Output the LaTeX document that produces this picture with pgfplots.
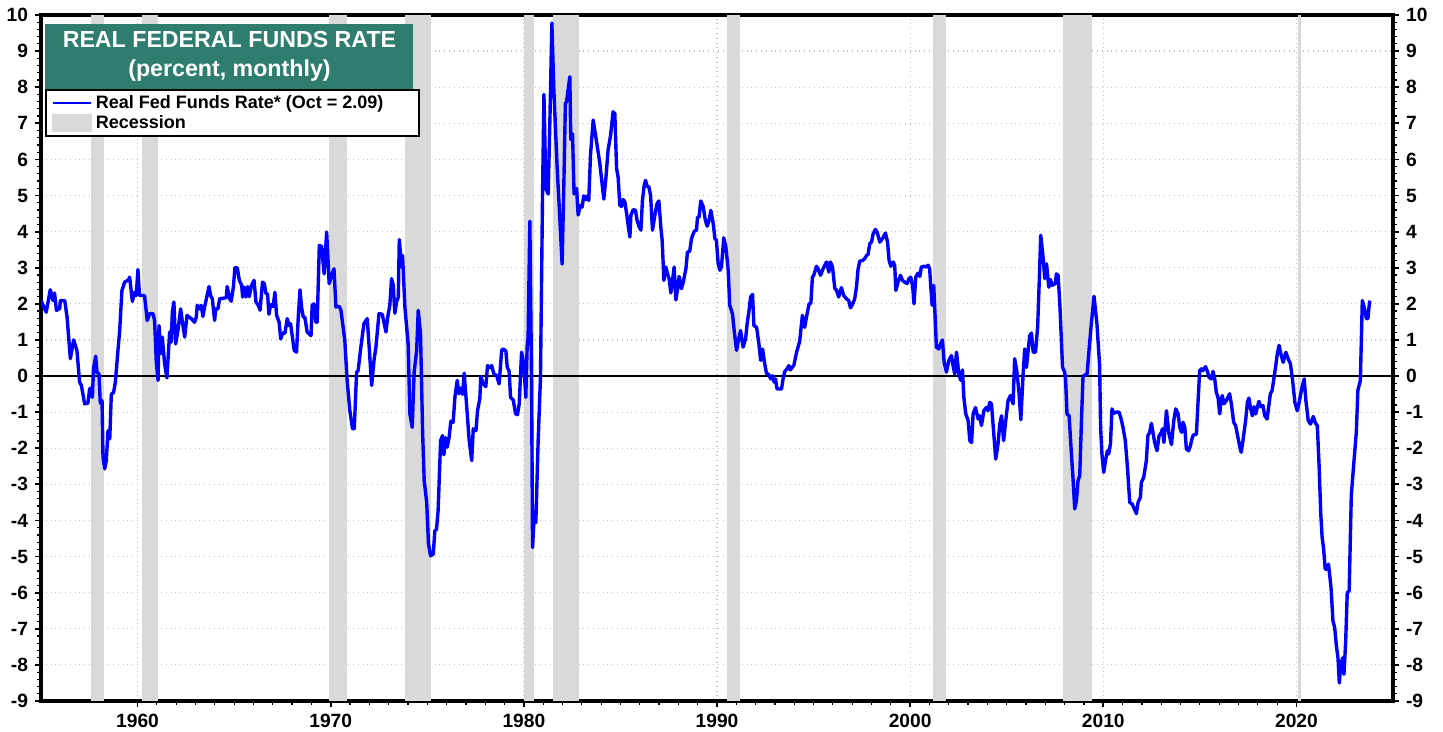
\documentclass[border=0pt]{standalone}
\usepackage{fontspec}
\setmainfont{Liberation Sans}
\usepackage{pgfplots}
\pgfplotsset{compat=1.18}
\definecolor{ttl}{RGB}{46,125,110}
\definecolor{recgray}{RGB}{217,217,217}
\definecolor{gridgray}{RGB}{195,195,195}
\definecolor{lineblue}{RGB}{0,0,255}
\begin{document}
\begin{tikzpicture}
\pgfplotsset{
  common/.style={
    scale only axis, width=676pt, height=343pt,
    xmin=1955, xmax=2025, ymin=-9, ymax=10,
    tick align=outside,
    major tick length=3pt, minor tick length=1.8pt,
    major tick style={black, line width=0.9pt},
    minor tick style={black, line width=0.6pt},
    axis line style={black, line width=1.6pt},
    /pgf/number format/assume math mode=true,
    /pgf/number format/1000 sep={},
    ticklabel style={font=\fontsize{9.6}{11}\selectfont\bfseries},
    ytick={-9,-8,...,10}, minor y tick num=4,
  }
}
\begin{axis}[common,
  xtick={1960,1970,...,2020}, minor x tick num=9,
  xtick pos=bottom, ytick pos=left,
  grid=major, major grid style={gridgray, dotted, line width=0.6pt},
  legend style={at={(rel axis cs:0.003,0.892)}, anchor=north west,
    draw=black, line width=1pt, fill=white, inner xsep=3pt, inner ysep=1pt,
    font=\fontsize{9}{10.5}\selectfont\bfseries, row sep=-1pt,
    nodes={inner sep=1.5pt}},
  legend cell align=left,
]
% recessions
\addplot[fill=recgray, draw=none, forget plot] coordinates {(1957.58,-9) (1957.58,10) (1958.25,10) (1958.25,-9)} -- cycle;
\addplot[fill=recgray, draw=none, forget plot] coordinates {(1960.25,-9) (1960.25,10) (1961.08,10) (1961.08,-9)} -- cycle;
\addplot[fill=recgray, draw=none, forget plot] coordinates {(1969.92,-9) (1969.92,10) (1970.83,10) (1970.83,-9)} -- cycle;
\addplot[fill=recgray, draw=none, forget plot] coordinates {(1973.83,-9) (1973.83,10) (1975.17,10) (1975.17,-9)} -- cycle;
\addplot[fill=recgray, draw=none, forget plot] coordinates {(1980.0,-9) (1980.0,10) (1980.5,10) (1980.5,-9)} -- cycle;
\addplot[fill=recgray, draw=none, forget plot] coordinates {(1981.5,-9) (1981.5,10) (1982.83,10) (1982.83,-9)} -- cycle;
\addplot[fill=recgray, draw=none, forget plot] coordinates {(1990.5,-9) (1990.5,10) (1991.17,10) (1991.17,-9)} -- cycle;
\addplot[fill=recgray, draw=none, forget plot] coordinates {(2001.17,-9) (2001.17,10) (2001.83,10) (2001.83,-9)} -- cycle;
\addplot[fill=recgray, draw=none, forget plot] coordinates {(2007.92,-9) (2007.92,10) (2009.42,10) (2009.42,-9)} -- cycle;
\addplot[fill=recgray, draw=none, forget plot] coordinates {(2020.08,-9) (2020.08,10) (2020.25,10) (2020.25,-9)} -- cycle;
% zero line
\addplot[black, line width=1pt, forget plot] coordinates {(1955,0) (2025,0)};
% real fed funds rate
\addplot[lineblue, line width=1.7pt, line join=round,
  legend image code/.code={\draw[lineblue, line width=1.4pt] (0pt,0pt) -- (19pt,0pt);}]
coordinates {
(1955.0,2.09) (1955.27,1.77) (1955.48,2.39) (1955.62,2.09) (1955.7,2.3) (1955.8,1.82) (1955.97,1.87) (1956.0,2.09) (1956.23,2.09) (1956.35,1.63) (1956.52,0.48) (1956.69,1.0) (1956.86,0.71) (1957.0,-0.17) (1957.09,-0.26) (1957.26,-0.77) (1957.43,-0.75) (1957.52,-0.35) (1957.6,-0.33) (1957.66,-0.59) (1957.72,0.2) (1957.83,0.55) (1957.9,0.1) (1958.0,0.06) (1958.07,-0.75) (1958.16,-0.68) (1958.21,-2.25) (1958.3,-2.57) (1958.38,-2.34) (1958.47,-1.51) (1958.56,-1.74) (1958.64,-0.51) (1958.76,-0.45) (1958.85,-0.17) (1958.99,0.75) (1959.07,1.22) (1959.19,2.37) (1959.33,2.6) (1959.54,2.67) (1959.59,2.74) (1959.73,2.07) (1959.85,2.32) (1959.93,2.23) (1960.02,2.95) (1960.1,2.23) (1960.36,2.23) (1960.5,1.54) (1960.63,1.73) (1960.8,1.73) (1960.88,1.54) (1960.97,0.38) (1961.06,-0.12) (1961.11,1.4) (1961.2,0.62) (1961.28,1.08) (1961.4,0.34) (1961.52,-0.05) (1961.66,1.22) (1961.74,0.94) (1961.8,1.77) (1961.88,2.05) (1961.97,0.89) (1962.09,1.26) (1962.23,1.86) (1962.31,1.54) (1962.44,1.08) (1962.56,1.68) (1962.78,1.59) (1962.95,1.49) (1963.04,1.63) (1963.09,1.96) (1963.21,1.86) (1963.3,1.96) (1963.38,1.65) (1963.47,1.91) (1963.7,2.48) (1963.78,2.23) (1963.87,2.14) (1963.99,1.54) (1964.04,1.86) (1964.16,1.86) (1964.25,2.14) (1964.59,2.17) (1964.64,2.48) (1964.77,2.14) (1964.85,2.07)
(1964.96,2.46) (1965.04,3.0) (1965.16,3.0) (1965.27,2.65) (1965.39,2.51) (1965.44,2.19) (1965.52,2.46) (1965.61,2.19) (1965.7,2.48) (1965.78,2.2) (1965.9,2.51) (1966.03,2.65) (1966.13,2.05) (1966.25,1.96) (1966.34,1.82) (1966.47,2.6) (1966.56,2.56) (1966.65,2.28) (1966.73,2.28) (1966.8,1.71) (1966.89,1.98) (1967.02,1.93) (1967.11,2.32) (1967.2,1.68) (1967.33,1.49) (1967.41,1.03) (1967.51,1.19) (1967.63,1.19) (1967.75,1.59) (1967.84,1.4) (1967.92,1.45) (1967.97,1.26) (1968.11,0.71) (1968.23,0.66) (1968.32,1.63) (1968.41,2.39) (1968.49,1.91) (1968.58,1.63) (1968.66,1.63) (1968.78,1.22) (1968.98,1.12) (1969.04,1.96) (1969.13,2.0) (1969.23,1.49) (1969.3,1.49) (1969.41,3.62) (1969.53,3.59) (1969.66,2.83) (1969.79,3.99) (1969.92,2.56) (1970.05,2.79) (1970.17,2.97) (1970.27,1.91) (1970.44,1.93) (1970.53,1.82) (1970.73,0.98) (1970.85,-0.12) (1970.99,-0.96) (1971.13,-1.46) (1971.22,-1.46) (1971.34,0.11) (1971.42,0.15) (1971.56,0.8) (1971.72,1.45) (1971.89,1.59) (1971.99,0.8) (1972.12,-0.26) (1972.24,0.43) (1972.34,0.8) (1972.5,1.73) (1972.67,1.71) (1972.77,1.45) (1972.86,1.22) (1972.95,1.63) (1973.06,1.96) (1973.15,2.7) (1973.24,2.51) (1973.32,1.74) (1973.41,2.05) (1973.5,2.19) (1973.55,3.78) (1973.67,3.02) (1973.72,3.34) (1973.84,1.91) (1974.01,0.89) (1974.1,-1.05) (1974.22,-1.42) (1974.32,0.11) (1974.45,0.71) (1974.53,1.82) (1974.65,1.17)
(1974.76,-1.6) (1974.84,-2.9) (1974.97,-3.5) (1975.06,-4.63) (1975.17,-4.98) (1975.31,-4.93) (1975.39,-4.29) (1975.48,-4.24) (1975.56,-3.73) (1975.69,-1.79) (1975.79,-1.65) (1975.86,-2.18) (1975.95,-1.71) (1976.03,-1.97) (1976.13,-1.7) (1976.22,-1.25) (1976.34,-1.28) (1976.43,-0.59) (1976.55,-0.12) (1976.64,-0.49) (1976.74,-0.33) (1976.83,-0.51) (1976.91,0.08) (1977.03,-0.77) (1977.17,-1.79) (1977.3,-2.34) (1977.38,-1.46) (1977.52,-1.51) (1977.6,-0.96) (1977.72,-0.63) (1977.77,-0.01) (1977.89,-0.22) (1978.03,-0.29) (1978.12,0.29) (1978.24,0.23) (1978.33,0.29) (1978.45,0.06) (1978.59,0.01) (1978.72,-0.22) (1978.85,0.71) (1978.93,0.75) (1979.07,0.69) (1979.14,0.24) (1979.24,0.13) (1979.31,-0.59) (1979.45,-0.66) (1979.57,-1.05) (1979.67,-1.07) (1979.76,-0.77) (1979.88,0.66) (1980.0,0.34) (1980.1,-0.59) (1980.17,0.8) (1980.22,1.08) (1980.31,4.29) (1980.4,-0.22) (1980.45,-4.75) (1980.53,-3.92) (1980.62,-4.06) (1980.74,-1.79) (1980.86,-0.03) (1980.97,5.15)
(1981.04,7.8) (1981.14,5.2) (1981.26,5.04) (1981.35,7.14) (1981.45,9.78) (1981.55,7.96) (1981.72,5.81) (1981.86,4.38) (1981.98,3.1) (1982.07,5.3) (1982.15,7.55) (1982.21,7.6) (1982.38,8.29) (1982.43,6.55) (1982.52,6.71) (1982.6,5.04) (1982.73,5.2) (1982.81,4.46) (1982.93,4.73) (1983.02,4.68) (1983.1,4.99) (1983.21,4.89) (1983.28,4.99) (1983.36,4.86) (1983.45,6.12) (1983.59,7.09) (1983.73,6.61) (1983.93,5.9) (1984.14,4.9) (1984.25,5.5) (1984.36,6.26) (1984.49,6.67) (1984.62,7.32) (1984.71,7.27) (1984.8,5.75) (1984.88,5.51) (1984.97,4.73) (1985.06,4.7) (1985.14,4.89) (1985.23,4.82) (1985.32,4.5) (1985.4,4.17) (1985.49,3.85) (1985.54,4.45) (1985.66,4.61) (1985.78,4.59) (1985.86,4.31) (1985.97,4.13) (1986.06,4.04) (1986.14,4.87) (1986.23,5.28) (1986.3,5.42) (1986.38,5.26) (1986.47,5.24) (1986.56,5.01) (1986.66,4.04) (1986.78,4.45) (1986.9,4.78) (1986.99,4.85) (1987.09,4.13) (1987.16,3.76) (1987.25,2.65) (1987.35,3.02) (1987.44,2.83) (1987.52,2.7) (1987.61,2.3) (1987.7,2.65) (1987.78,3.02) (1987.87,2.11) (1987.96,2.42) (1988.04,2.76) (1988.16,2.42) (1988.25,2.6) (1988.39,2.97) (1988.47,3.43) (1988.59,3.46) (1988.68,3.81) (1988.82,4.01) (1988.94,4.04) (1988.99,4.4) (1989.07,4.4) (1989.16,4.85) (1989.28,4.7) (1989.4,4.31) (1989.49,4.15) (1989.58,4.29) (1989.68,4.59) (1989.8,4.24) (1989.89,3.81) (1989.97,3.76) (1990.06,3.11) (1990.15,2.93) (1990.23,3.02) (1990.35,3.83) (1990.46,3.57) (1990.58,2.93) (1990.66,1.96) (1990.8,1.73) (1990.89,1.26) (1991.01,0.71) (1991.09,0.94) (1991.22,1.26) (1991.35,0.8) (1991.48,1.03) (1991.56,1.45) (1991.66,1.82) (1991.74,2.19) (1991.84,2.26) (1991.91,1.4) (1992.05,1.35) (1992.17,0.89) (1992.26,0.43) (1992.36,0.75) (1992.47,0.34) (1992.56,0.08) (1992.68,0.04) (1992.78,-0.08) (1992.87,0.01) (1992.96,-0.17) (1993.03,-0.08) (1993.11,-0.36) (1993.25,-0.36) (1993.34,-0.36) (1993.42,-0.08) (1993.51,0.13) (1993.63,0.2) (1993.72,0.29) (1993.8,0.17) (1993.89,0.24) (1993.98,0.3) (1994.12,0.66) (1994.28,0.96)
(1994.42,1.68) (1994.54,1.35) (1994.63,1.63) (1994.77,2.0) (1994.86,2.02) (1994.94,2.74) (1995.01,2.79) (1995.15,3.04) (1995.23,2.97) (1995.36,2.79) (1995.49,2.97) (1995.67,3.16) (1995.79,2.88) (1995.87,3.16) (1995.98,3.02) (1996.1,2.42) (1996.18,2.39) (1996.3,2.19) (1996.44,2.45) (1996.56,2.23) (1996.7,2.14) (1996.82,2.09) (1996.91,1.89) (1997.01,1.98) (1997.13,2.14) (1997.22,2.46) (1997.3,2.95) (1997.39,3.18) (1997.53,3.2) (1997.65,3.25) (1997.74,3.34) (1997.82,3.37) (1997.91,3.67) (1998.0,3.71) (1998.08,3.93) (1998.2,4.06) (1998.29,3.99) (1998.43,3.71) (1998.57,3.81) (1998.72,3.96) (1998.83,3.71) (1998.91,3.2) (1999.0,3.04) (1999.12,3.16) (1999.2,3.07) (1999.26,2.37) (1999.37,2.6) (1999.5,2.79) (1999.6,2.65) (1999.72,2.6) (1999.84,2.56) (1999.94,2.7) (2000.03,2.74) (2000.13,2.48) (2000.2,2.0) (2000.29,2.74) (2000.41,2.85) (2000.5,2.76) (2000.58,3.02) (2000.7,3.04) (2000.84,3.02) (2000.93,3.07) (2001.01,2.97) (2001.07,2.46) (2001.14,1.96) (2001.22,2.51) (2001.27,1.91) (2001.36,0.8) (2001.48,0.75) (2001.57,0.89) (2001.67,1.0) (2001.76,0.38) (2001.88,0.11) (2002.0,0.43) (2002.14,0.57) (2002.22,0.29) (2002.31,0.06) (2002.4,0.66) (2002.52,0.06) (2002.62,-0.12) (2002.71,0.17) (2002.78,-0.59) (2002.88,-1.05) (2003.0,-1.23) (2003.09,-1.79) (2003.18,-1.84) (2003.26,-1.05) (2003.38,-0.87) (2003.52,-1.19) (2003.6,-1.1) (2003.69,-1.37) (2003.82,-0.96) (2003.95,-0.87) (2004.03,-0.96) (2004.12,-0.73)
(2004.21,-0.77) (2004.33,-1.6) (2004.43,-2.3) (2004.55,-1.88) (2004.64,-1.33) (2004.73,-1.1) (2004.84,-1.79) (2004.95,-1.23) (2005.07,-0.68) (2005.19,-0.54) (2005.33,-0.77) (2005.41,0.48) (2005.53,0.11) (2005.64,-0.49) (2005.73,-1.21) (2005.85,0.06) (2005.93,0.75) (2006.02,0.24) (2006.11,0.71) (2006.19,1.12) (2006.28,1.19) (2006.37,0.66) (2006.49,0.66) (2006.6,1.35) (2006.68,2.56) (2006.76,3.9) (2006.88,3.3) (2006.97,2.7) (2007.06,3.11) (2007.18,2.46) (2007.27,2.67) (2007.35,2.51) (2007.43,2.54) (2007.52,2.56) (2007.57,2.83) (2007.66,2.79) (2007.75,2.0) (2007.89,0.24) (2008.0,0.11) (2008.05,-0.12) (2008.12,-1.05) (2008.23,-1.1) (2008.35,-2.16) (2008.43,-2.81) (2008.52,-3.68) (2008.61,-3.45) (2008.69,-2.9) (2008.78,-2.76) (2008.87,-1.23) (2008.95,-0.01) (2009.09,0.04) (2009.16,0.06) (2009.26,0.71) (2009.38,1.45) (2009.52,2.21) (2009.67,1.45) (2009.81,0.29) (2009.86,-1.42) (2009.93,-2.16) (2010.02,-2.67) (2010.12,-2.32) (2010.21,-2.07) (2010.28,-2.16) (2010.37,-1.88) (2010.45,-0.91) (2010.54,-1.03) (2010.68,-1.0) (2010.81,-1.0) (2010.9,-1.14) (2011.02,-1.42) (2011.14,-1.79) (2011.25,-2.53) (2011.37,-3.5) (2011.5,-3.55) (2011.63,-3.71) (2011.71,-3.81) (2011.8,-3.5) (2011.92,-3.36) (2011.97,-2.95) (2012.09,-2.81) (2012.23,-2.34) (2012.31,-1.65) (2012.4,-1.56) (2012.49,-1.31) (2012.57,-1.56) (2012.66,-1.84) (2012.78,-2.07) (2012.89,-1.65) (2013.01,-1.56) (2013.06,-1.46) (2013.14,-1.84) (2013.27,-0.96) (2013.4,-1.6) (2013.53,-1.9) (2013.65,-1.23) (2013.75,-0.91) (2013.87,-1.05) (2013.96,-1.42)
(2014.05,-1.56) (2014.13,-1.28) (2014.22,-1.42) (2014.3,-2.02) (2014.42,-2.07) (2014.51,-1.93) (2014.61,-1.7) (2014.68,-1.62) (2014.82,-1.62) (2014.9,-0.77) (2014.99,0.15) (2015.08,0.2) (2015.16,0.15) (2015.29,0.26) (2015.39,0.13) (2015.47,-0.03) (2015.59,-0.08) (2015.68,0.13) (2015.77,-0.08) (2015.85,-0.45) (2015.94,-0.59) (2016.03,-1.05) (2016.08,-0.75) (2016.16,-0.54) (2016.25,-0.77) (2016.37,-0.68) (2016.45,-0.59) (2016.54,-0.49) (2016.63,-0.77) (2016.75,-1.28) (2016.85,-1.37) (2016.97,-1.7) (2017.09,-2.02) (2017.14,-2.11) (2017.23,-1.79) (2017.37,-1.23) (2017.46,-0.73) (2017.54,-0.61) (2017.63,-0.91) (2017.72,-1.1) (2017.8,-0.85) (2017.89,-1.05) (2017.98,-0.85) (2018.06,-0.7) (2018.15,-0.85) (2018.27,-0.82) (2018.36,-1.1) (2018.48,-1.19) (2018.57,-0.82) (2018.65,-0.49) (2018.74,-0.4) (2018.82,-0.12) (2018.93,0.29) (2019.01,0.62) (2019.1,0.85) (2019.19,0.62) (2019.31,0.38) (2019.45,0.66) (2019.57,0.48) (2019.69,0.34) (2019.8,-0.12) (2019.92,-0.73) (2020.04,-0.96) (2020.14,-0.73) (2020.27,-0.36) (2020.4,-0.08) (2020.49,-0.68) (2020.61,-1.23) (2020.73,-1.33) (2020.87,-1.12) (2020.99,-1.31) (2021.08,-1.37) (2021.17,-2.44) (2021.26,-3.82) (2021.33,-4.47) (2021.4,-4.75) (2021.49,-5.35) (2021.58,-5.35) (2021.66,-5.21) (2021.79,-5.86) (2021.89,-6.78) (2021.98,-6.97) (2022.07,-7.48) (2022.15,-7.8) (2022.22,-8.5) (2022.3,-7.97) (2022.4,-7.8) (2022.46,-8.26) (2022.55,-7.34) (2022.63,-6.0) (2022.73,-5.95) (2022.84,-3.31) (2022.96,-2.48) (2023.1,-1.56) (2023.18,-0.4) (2023.31,-0.12) (2023.41,2.09) (2023.53,1.86) (2023.62,1.59) (2023.7,1.59) (2023.79,2.09)
};
\addlegendentry{\makebox[157pt][l]{Real Fed Funds Rate* (Oct = 2.09)}}
\addlegendimage{legend image code/.code={\fill[recgray] (0pt,-4pt) rectangle (19pt,4pt);}}
\addlegendentry{Recession}
% title box
\node[anchor=north west, fill=ttl, text=white, minimum width=184pt, minimum height=33pt,
  align=center, inner sep=2pt, font=\fontsize{11.6}{14.5}\selectfont\bfseries]
  at (rel axis cs:0.003,0.988) {REAL FEDERAL FUNDS RATE\\(percent, monthly)};
\end{axis}
\begin{axis}[common,
  hide x axis, axis y line*=right,
  ytick pos=right, yticklabel pos=right,
]
\end{axis}
\pgfresetboundingbox
\path ([shift={(-20.5pt,-15.5pt)}]current axis.south west) rectangle ([shift={(25pt,7.5pt)}]current axis.north east);
\end{tikzpicture}
\end{document}
